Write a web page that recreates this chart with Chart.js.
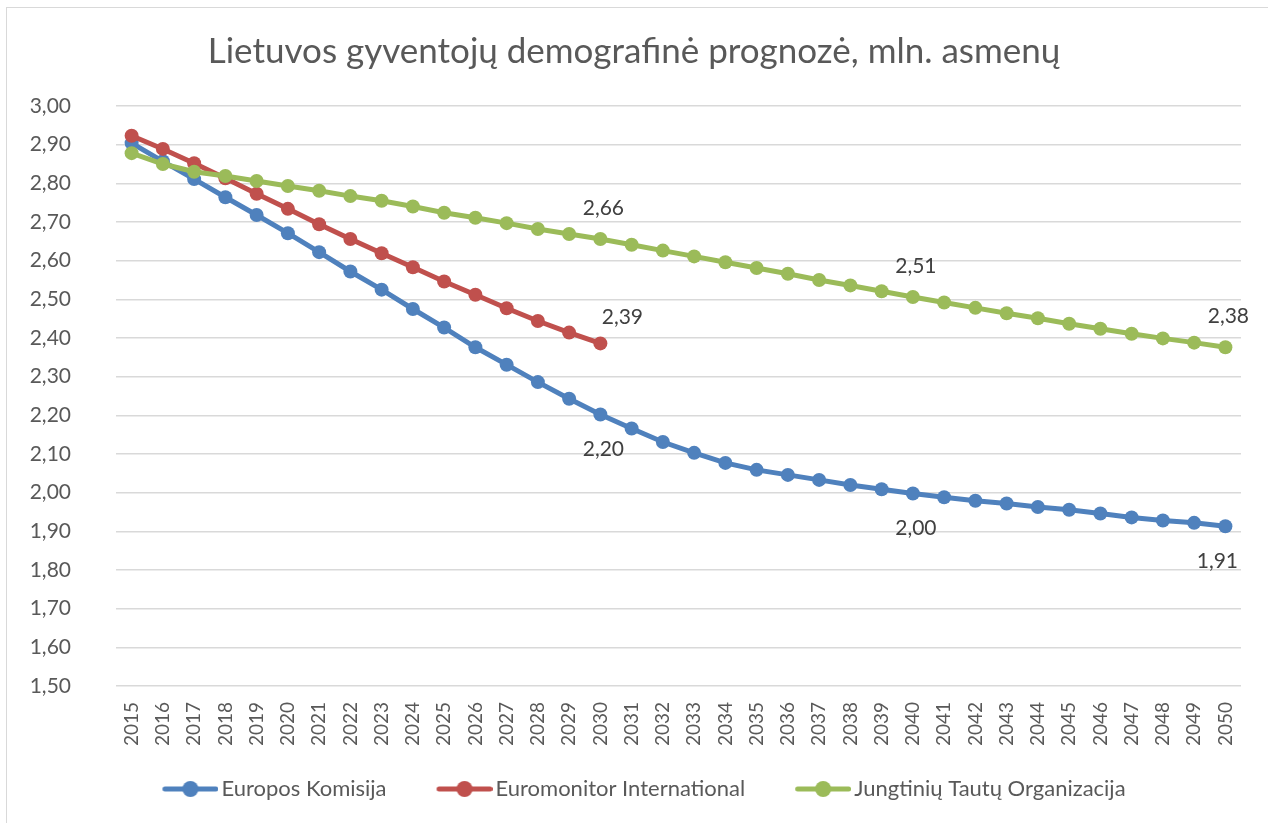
<!DOCTYPE html>
<html>
<head>
<meta charset="utf-8">
<script src="https://cdn.jsdelivr.net/npm/chart.js@4"></script>
<style>
  body { margin: 0; overflow: hidden; background: #fff; }
  #frame { position: absolute; left: 6px; top: 7px; width: 1300px; height: 900px; border: 1px solid #d9d9d9; }
  #myChart { position: absolute; left: 0; top: 0; }
</style>
</head>
<body>
<div id="frame"></div>
<canvas id="myChart" width="1268" height="823"></canvas>
<script>
// metai (x ašis)
const years = [];
for (let y = 2015; y <= 2050; y++) years.push(String(y));

// prognozės, mln. asmenų
const europosKomisija = [2.904, 2.857, 2.811, 2.764, 2.718, 2.671, 2.622, 2.572, 2.525, 2.475,
    2.427, 2.376, 2.331, 2.286, 2.243, 2.202, 2.166, 2.131, 2.103, 2.077,
    2.059, 2.046, 2.033, 2.020, 2.009, 1.998, 1.988, 1.979, 1.972, 1.963,
    1.956, 1.946, 1.936, 1.928, 1.922, 1.913];
const euromonitor = [2.923, 2.889, 2.852, 2.813, 2.773, 2.734, 2.694, 2.656, 2.619, 2.583,
    2.546, 2.512, 2.477, 2.444, 2.414, 2.386];
const jto = [2.878, 2.850, 2.830, 2.819, 2.806, 2.793, 2.781, 2.767, 2.755, 2.740,
    2.724, 2.711, 2.697, 2.682, 2.669, 2.656, 2.641, 2.626, 2.611, 2.596,
    2.581, 2.566, 2.550, 2.536, 2.521, 2.506, 2.492, 2.478, 2.464, 2.451,
    2.437, 2.424, 2.411, 2.399, 2.388, 2.376];

// metai, prie kurių rodoma reikšmė
const labeledEK = ['2030', '2040', '2050'];
const labeledEM = ['2030'];
const labeledJTO = ['2030', '2040', '2050'];

const seriesNames = ['Europos Komisija', 'Euromonitor International', 'Jungtinių Tautų Organizacija'];
const colors = ['#4f81bd', '#c0504d', '#9bbb59'];
const FONT = 'Lato';
const textColor = '#595959';

function fmt(v) {
    return v.toFixed(2).replace('.', ',');
}

// legendos ženklas: linija su tašku (kairėje tuščia vieta tarpui tarp įrašų)
function legendMark(color) {
    const c = document.createElement('canvas');
    c.width = 84; c.height = 18;
    const g = c.getContext('2d');
    g.strokeStyle = color;
    g.lineWidth = 5;
    g.lineCap = 'round';
    g.beginPath(); g.moveTo(30.5, 9); g.lineTo(81.5, 9); g.stroke();
    g.fillStyle = color;
    g.beginPath(); g.arc(56, 9, 8, 0, Math.PI * 2); g.fill();
    return c;
}

// reikšmių užrašai prie pasirinktų taškų
const valueLabels = {
    id: 'valueLabels',
    afterDatasetsDraw(chart) {
        const ctx = chart.ctx;
        ctx.save();
        ctx.font = '21px ' + FONT;
        ctx.fillStyle = '#404040';
        ctx.textAlign = 'center';
        ctx.textBaseline = 'middle';
        chart.data.datasets.forEach((ds, i) => {
            const meta = chart.getDatasetMeta(i);
            ds.labelYears.forEach(yr => {
                const idx = chart.data.labels.indexOf(yr);
                const pt = meta.data[idx];
                if (!pt || ds.data[idx] == null) return;
                let dx = ds.labelOffset[0];
                if (idx === chart.data.labels.length - 1 && ds.labelOffset[1] > 0) dx = -8;
                ctx.fillText(fmt(ds.data[idx]), pt.x + dx, pt.y + ds.labelOffset[1]);
            });
        });
        ctx.restore();
    }
};

const data = {
    labels: years,
    datasets: [
        { label: seriesNames[0], data: europosKomisija, labelYears: labeledEK, labelOffset: [3, 35], order: 3 },
        { label: seriesNames[1], data: euromonitor, labelYears: labeledEM, labelOffset: [22, -26], order: 2 },
        { label: seriesNames[2], data: jto, labelYears: labeledJTO, labelOffset: [3, -31], order: 1 }
    ].map((d, i) => Object.assign(d, {
        borderColor: colors[i],
        backgroundColor: colors[i],
        pointBackgroundColor: colors[i],
        pointBorderColor: colors[i],
        borderWidth: 5,
        pointRadius: 7,
        pointBorderWidth: 0,
        pointHoverRadius: 7,
        tension: 0
    }))
};

const config = {
    type: 'line',
    data: data,
    plugins: [valueLabels],
    options: {
        responsive: false,
        animation: false,
        layout: { padding: { left: 27, right: 27, top: 0, bottom: 13 } },
        plugins: {
            title: {
                display: true,
                text: 'Lietuvos gyventojų demografinė prognozė, mln. asmenų',
                color: textColor,
                font: { family: FONT, size: 35, weight: 'normal' },
                padding: { top: 31, bottom: 33 }
            },
            legend: {
                position: 'bottom',
                labels: {
                    color: textColor,
                    font: { family: FONT, size: 22 },
                    usePointStyle: true,
                    pointStyleWidth: 68,
                    padding: 30,
                    generateLabels(chart) {
                        return chart.data.datasets.map((ds, i) => ({
                            text: ds.label,
                            fillStyle: colors[i],
                            strokeStyle: colors[i],
                            fontColor: textColor,
                            pointStyle: legendMark(colors[i]),
                            lineWidth: 0,
                            hidden: false,
                            datasetIndex: i
                        }));
                    }
                }
            },
            tooltip: { enabled: false }
        },
        scales: {
            x: {
                offset: true,
                grid: { display: false, drawTicks: false },
                border: { display: false },
                ticks: {
                    color: textColor,
                    font: { family: FONT, size: 19 },
                    minRotation: 90,
                    maxRotation: 90,
                    autoSkip: false,
                    padding: 16
                },
                afterFit(scale) { scale.height = 62; }
            },
            y: {
                min: 1.5,
                max: 3.0,
                grid: { color: '#d9d9d9', lineWidth: 1.5, drawTicks: false },
                border: { display: false },
                ticks: {
                    stepSize: 0.1,
                    color: textColor,
                    font: { family: FONT, size: 21 },
                    padding: 45,
                    callback: v => fmt(v)
                },
                afterFit(scale) { scale.width = 89; }
            }
        }
    }
};

new Chart('myChart', config);
</script>
</body>
</html>
